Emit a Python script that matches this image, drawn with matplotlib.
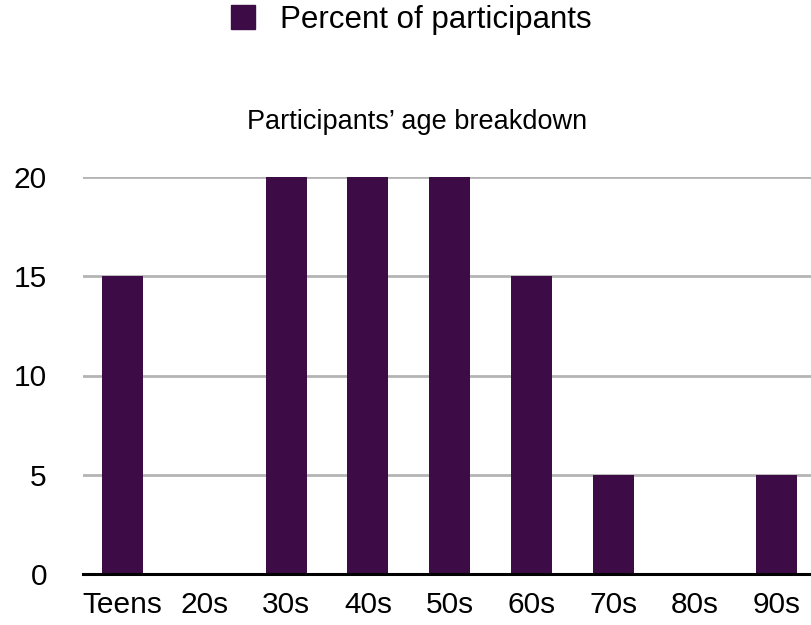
import matplotlib.pyplot as plt
from matplotlib.patches import Patch

plt.rcParams['font.family'] = ['Liberation Sans', 'DejaVu Sans']

# Datos del gráfico
grupos = ['Teens', '20s', '30s', '40s', '50s', '60s', '70s', '80s', '90s']
porcentajes = [15, 0, 20, 20, 20, 15, 5, 0, 5]
color_barra = '#3d0b46'

fig = plt.figure(figsize=(8.12, 6.25), dpi=100)
ax = fig.add_axes([83/812, 51/625, 1 - 83/812, (574 - 177)/625])

x = range(len(grupos))
ax.bar(x, porcentajes, width=0.5, color=color_barra, zorder=3)

ax.set_xlim(-0.483, 8.43)
ax.set_ylim(0, 20)
ax.set_yticks([0, 5, 10, 15, 20])
ax.set_xticks(list(x))
ax.set_xticklabels(grupos)
ax.tick_params(axis='both', length=0, labelsize=21.5)
ax.tick_params(axis='y', pad=26)
ax.tick_params(axis='x', pad=12)

# Rejilla horizontal
ax.grid(axis='y', color='#b4b4b4', linewidth=2, zorder=0)
ax.set_axisbelow(True)
for lado in ['top', 'right', 'left']:
    ax.spines[lado].set_visible(False)
ax.spines['bottom'].set_linewidth(2.2)
ax.spines['bottom'].set_color('black')
ax.spines['bottom'].set_zorder(4)

fig.text(417/812, 1 - 122/625, 'Participants\u2019 age breakdown',
         ha='center', va='center', fontsize=19.5)

fig.legend(handles=[Patch(color=color_barra, label='Percent of participants')],
           loc='center', bbox_to_anchor=(411/812, 1 - 20/625), frameon=False,
           fontsize=22.5, handlelength=0.77, handleheight=0.77, handletextpad=0.8)

plt.savefig('out.png', dpi=100)
